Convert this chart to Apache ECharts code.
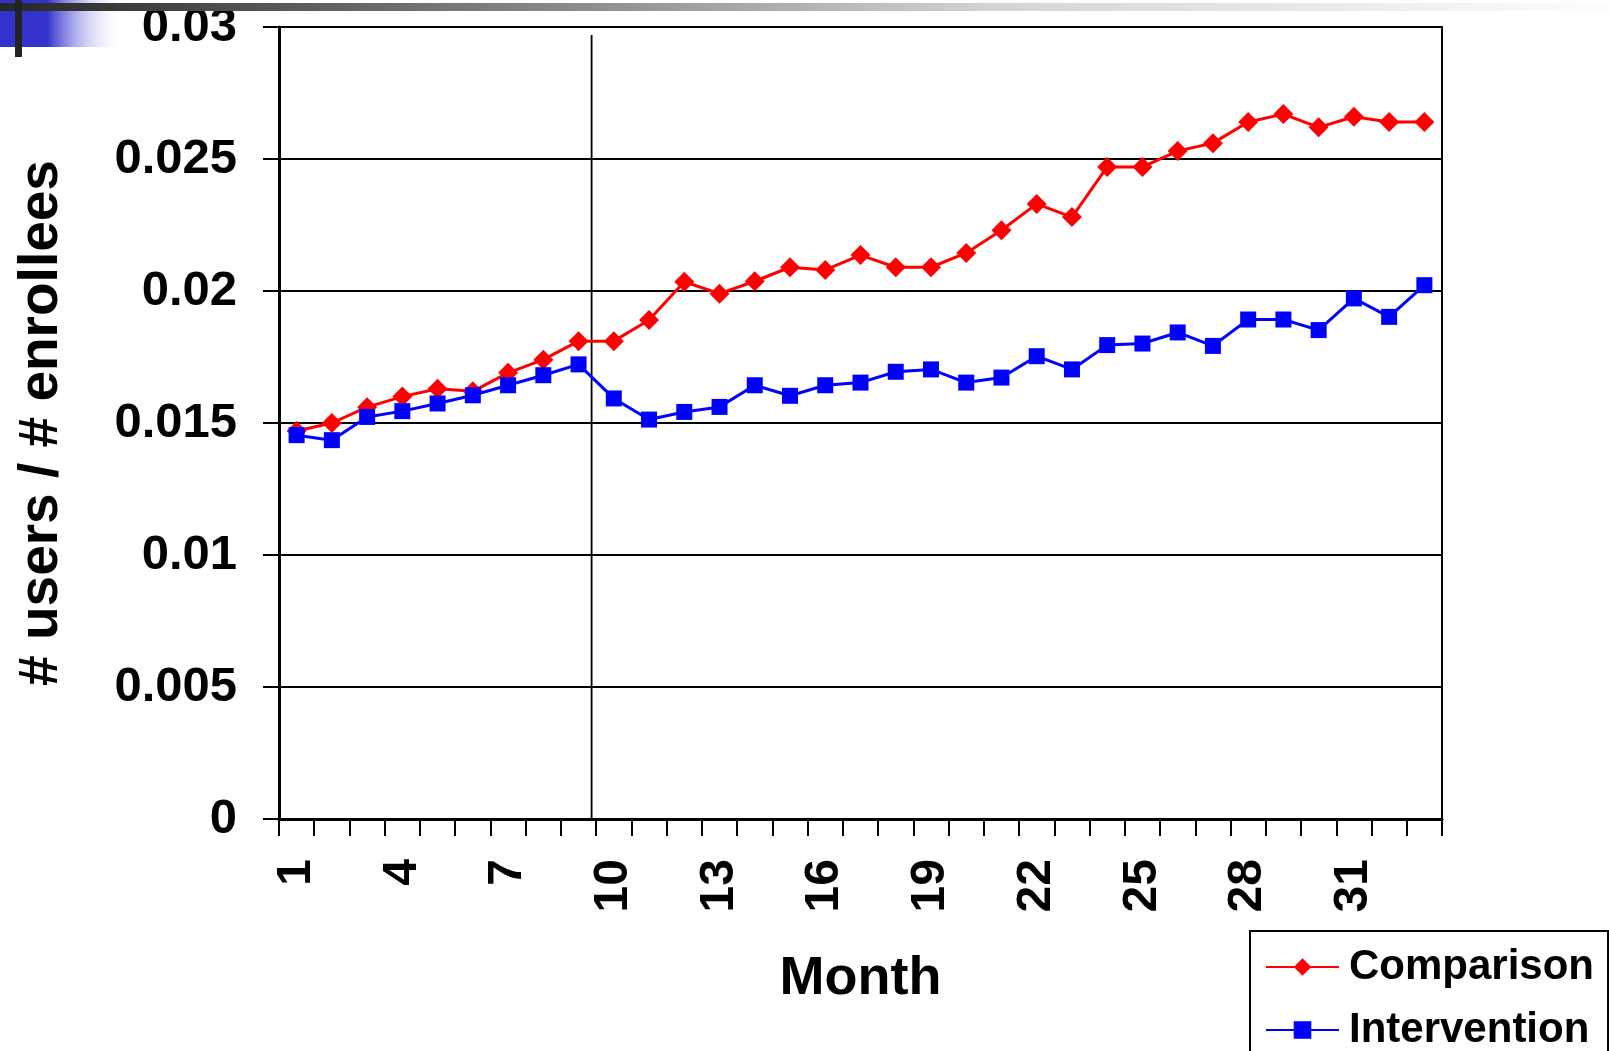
<!DOCTYPE html>
<html>
<head>
<meta charset="utf-8">
<title># users / # enrollees by Month</title>
<script src="https://cdn.jsdelivr.net/npm/echarts@6/dist/echarts.min.js"></script>
<style>
  html, body { margin: 0; padding: 0; background: #ffffff; }
  #chart { width: 1609px; height: 1051px; }
</style>
</head>
<body>
<div id="chart"></div>
<script>
// Months 1..33
const months = ['1','2','3','4','5','6','7','8','9','10','11','12','13','14','15','16','17',
                '18','19','20','21','22','23','24','25','26','27','28','29','30','31','32','33'];

// Share of enrollees who are users, per month
const comparison = [0.0147, 0.0150, 0.0156, 0.0160, 0.0163, 0.0162, 0.0169, 0.0174, 0.0181,
                    0.0181, 0.0189, 0.02035, 0.0199, 0.02037, 0.0209, 0.0208, 0.02136, 0.0209,
                    0.0209, 0.02144, 0.0223, 0.0233, 0.0228, 0.0247, 0.0247, 0.0253, 0.0256,
                    0.0264, 0.0267, 0.0262, 0.0266, 0.0264, 0.0264];

const intervention = [0.01454, 0.01435, 0.01523, 0.01545, 0.01574, 0.01605, 0.01643, 0.01681,
                      0.01722, 0.01593, 0.01513, 0.01542, 0.01561, 0.01643, 0.01603, 0.01643,
                      0.01653, 0.01694, 0.01703, 0.01653, 0.01672, 0.01753, 0.01703, 0.01795,
                      0.01801, 0.01843, 0.01792, 0.01892, 0.01892, 0.01852, 0.01972, 0.01902,
                      0.02022];

// Y axis scale
const yMin = 0, yMax = 0.03, yStep = 0.005;

// Vertical divider marking the start of the intervention (month position, top value)
const dividerMonth = 9.37;
const dividerTop = 0.0297;

const FONT = "'Liberation Sans', Arial, Helvetica, sans-serif";

const chart = echarts.init(document.getElementById('chart'), null, { renderer: 'canvas' });

chart.setOption({
  backgroundColor: '#ffffff',
  animation: false,
  grid: {
    left: 279, top: 27, width: 1163, height: 792,
    show: true, borderColor: '#000000', borderWidth: 2, backgroundColor: 'transparent'
  },
  legend: {
    data: ['Comparison', 'Intervention'],
    orient: 'vertical',
    left: 1250, top: 931,
    height: 200,
    padding: [15, 14, 40, 15],
    itemGap: 21,
    itemWidth: 73, itemHeight: 22,
    borderColor: '#000000', borderWidth: 2,
    backgroundColor: '#ffffff',
    textStyle: {
      fontFamily: FONT, fontWeight: 'bold', fontSize: 42, color: '#000000',
      padding: [0, 0, 0, 5]
    }
  },
  xAxis: [
    {
      type: 'category',
      data: months,
      boundaryGap: true,
      name: 'Month',
      nameLocation: 'middle',
      nameGap: 133,
      nameTextStyle: { fontFamily: FONT, fontWeight: 'bold', fontSize: 54, color: '#000000' },
      axisLine: { lineStyle: { color: '#000000', width: 3 } },
      axisTick: { show: true, interval: 0, length: 17, lineStyle: { color: '#000000', width: 2 } },
      axisLabel: {
        interval: 2, rotate: 90, margin: 40,
        fontFamily: FONT, fontWeight: 'bold', fontSize: 48, color: '#000000'
      },
      splitLine: { show: false }
    },
    {
      // Continuous month scale used only to place the divider line
      type: 'value',
      min: 0.5, max: 33.5,
      show: false
    }
  ],
  yAxis: {
    type: 'value',
    min: yMin, max: yMax, interval: yStep,
    name: '# users / # enrollees',
    nameLocation: 'middle',
    nameGap: 210,
    nameTextStyle: { fontFamily: FONT, fontWeight: 'bold', fontSize: 55, color: '#000000' },
    axisLine: { show: true, lineStyle: { color: '#000000', width: 3 } },
    axisTick: { show: true, length: 16, lineStyle: { color: '#000000', width: 2 } },
    axisLabel: {
      margin: 42,
      fontFamily: FONT, fontWeight: 'bold', fontSize: 49, color: '#000000'
    },
    splitLine: { show: true, lineStyle: { color: '#000000', width: 2 } }
  },
  series: [
    {
      name: 'divider',
      type: 'line',
      xAxisIndex: 1,
      data: [[dividerMonth, yMin], [dividerMonth, dividerTop]],
      symbol: 'none',
      silent: true,
      lineStyle: { color: '#000000', width: 1.8 },
      z: 1
    },
    {
      name: 'Comparison',
      type: 'line',
      data: comparison,
      symbol: 'diamond',
      symbolSize: 20,
      color: '#ff0000',
      itemStyle: { color: '#ff0000' },
      lineStyle: { color: '#ff0000', width: 3 },
      z: 3
    },
    {
      name: 'Intervention',
      type: 'line',
      data: intervention,
      symbol: 'rect',
      symbolSize: 16,
      color: '#0000ff',
      itemStyle: { color: '#0000ff' },
      lineStyle: { color: '#0000ff', width: 3 },
      z: 4
    }
  ],
  graphic: [
    {
      // Blue corner block of the slide banner
      type: 'rect',
      shape: { x: 0, y: 0, width: 124, height: 47 },
      style: {
        fill: new echarts.graphic.LinearGradient(0, 0, 1, 0, [
          { offset: 0, color: '#3333cc' },
          { offset: 0.38, color: '#3333cc' },
          { offset: 1, color: 'rgba(255,255,255,0)' }
        ])
      },
      z: 100
    },
    {
      // Grey banner stripe along the top
      type: 'rect',
      shape: { x: 0, y: 3, width: 1609, height: 8 },
      style: {
        fill: new echarts.graphic.LinearGradient(0, 0, 1, 0, [
          { offset: 0, color: '#262626' },
          { offset: 0.25, color: '#6e6e6e' },
          { offset: 0.62, color: '#d4d4d4' },
          { offset: 1, color: '#fdfdfd' }
        ])
      },
      z: 101
    },
    {
      // Dark vertical bar of the banner
      type: 'rect',
      shape: { x: 15, y: 0, width: 7, height: 57 },
      style: { fill: '#222222' },
      z: 102
    }
  ]
});
</script>
</body>
</html>
